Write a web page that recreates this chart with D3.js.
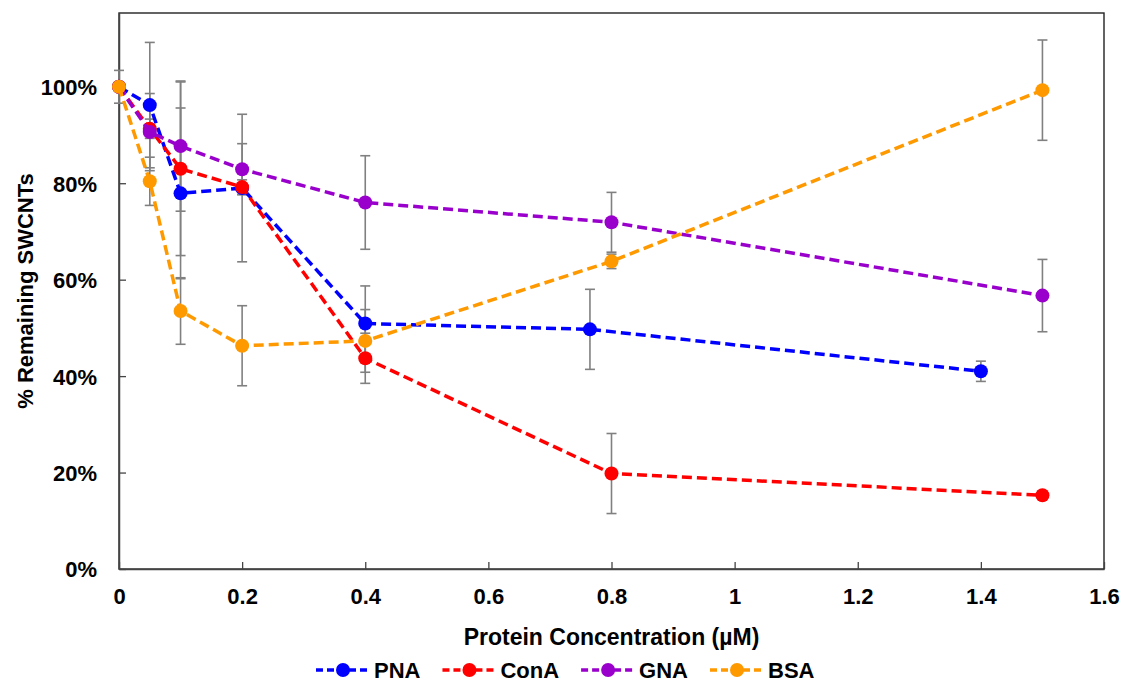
<!DOCTYPE html>
<html>
<head>
<meta charset="utf-8">
<script src="https://cdn.jsdelivr.net/npm/d3@7"></script>
<style>
  html, body { margin: 0; padding: 0; background: #fff; }
  svg { display: block; }
  text { font-family: "Liberation Sans", Arial, sans-serif; font-weight: bold; fill: #000; }
</style>
</head>
<body>
<svg id="chart" width="1123" height="682"></svg>
<script>
// ---- data ----
const seriesNames = ["PNA", "ConA", "GNA", "BSA"];
const seriesColors = ["#0000FF", "#FF0000", "#9900CC", "#FF9900"];

const xPNA = [0, 0.05, 0.1, 0.2, 0.4, 0.765, 1.4];
const yPNA = [1.00, 0.962, 0.779, 0.790, 0.509, 0.497, 0.410];
const ePNA = [0, 0.13, 0.177, 0.153, 0.078, 0.083, 0.021];

const xConA = [0, 0.05, 0.1, 0.2, 0.4, 0.8, 1.5];
const yConA = [1.00, 0.913, 0.830, 0.792, 0.437, 0.198, 0.153];
const eConA = [0, 0.02, 0.18, 0.015, 0.052, 0.083, 0.008];

const xGNA = [0, 0.05, 0.1, 0.2, 0.4, 0.8, 1.5];
const yGNA = [1.00, 0.906, 0.877, 0.829, 0.760, 0.719, 0.567];
const eGNA = [0, 0.08, 0.135, 0.053, 0.097, 0.062, 0.075];

const xBSA = [0, 0.05, 0.1, 0.2, 0.4, 0.8, 1.5];
const yBSA = [1.00, 0.804, 0.535, 0.463, 0.473, 0.638, 0.993];
const eBSA = [0.034, 0.05, 0.069, 0.083, 0.065, 0.015, 0.104];

const xTicks = [0, 0.2, 0.4, 0.6, 0.8, 1, 1.2, 1.4, 1.6];
const yTicks = [0, 0.2, 0.4, 0.6, 0.8, 1.0];

const xTitle = "Protein Concentration (µM)";
const yTitle = "% Remaining SWCNTs";

// ---- build ----
const series = [
  { name: seriesNames[0], color: seriesColors[0], x: xPNA, y: yPNA, e: ePNA },
  { name: seriesNames[1], color: seriesColors[1], x: xConA, y: yConA, e: eConA },
  { name: seriesNames[2], color: seriesColors[2], x: xGNA, y: yGNA, e: eGNA },
  { name: seriesNames[3], color: seriesColors[3], x: xBSA, y: yBSA, e: eBSA }
].map(s => ({ ...s, pts: s.x.map((xv, i) => ({ x: xv, y: s.y[i], e: s.e[i] })) }));

const pLeft = 119, pRight = 1104, pTop = 13, pBottom = 569;
const svg = d3.select("#chart");
const FONT = '"Liberation Sans", Arial, sans-serif';

const x = d3.scaleLinear().domain([0, 1.6]).range([pLeft, pRight]);
const y = d3.scaleLinear().domain([0, 1.153]).range([pBottom, pTop]);

// plot border
svg.append("rect")
  .attr("x", pLeft).attr("y", pTop)
  .attr("width", pRight - pLeft).attr("height", pBottom - pTop)
  .attr("fill", "none").attr("stroke", "#222").attr("stroke-width", 1.4);

// x axis (inner ticks)
const xAxis = svg.append("g")
  .attr("transform", `translate(0,${pBottom})`)
  .call(d3.axisBottom(x).tickValues(xTicks).tickSizeInner(-7).tickSizeOuter(0)
    .tickPadding(0).tickFormat(d => String(+d.toFixed(1))));
xAxis.select(".domain").attr("stroke", "#444").attr("stroke-width", 1.5);
xAxis.selectAll(".tick line").attr("stroke", "#444").attr("stroke-width", 1.3);
xAxis.selectAll(".tick text").attr("font-size", 22).attr("dy", 0).attr("y", 35)
  .attr("font-family", FONT).attr("font-weight", "bold").attr("fill", "#000");

// y axis (inner ticks)
const yAxis = svg.append("g")
  .attr("transform", `translate(${pLeft},0)`)
  .call(d3.axisLeft(y).tickValues(yTicks).tickSizeInner(-7).tickSizeOuter(0)
    .tickPadding(0).tickFormat(d3.format(".0%")));
yAxis.select(".domain").attr("stroke", "#444").attr("stroke-width", 1.5);
yAxis.selectAll(".tick line").attr("stroke", "#444").attr("stroke-width", 1.3);
yAxis.selectAll(".tick text").attr("font-size", 22).attr("x", -22).attr("dy", "0.36em")
  .attr("font-family", FONT).attr("font-weight", "bold").attr("fill", "#000");

// titles
svg.append("text").attr("x", (pLeft + pRight) / 2).attr("y", 645)
  .attr("text-anchor", "middle").attr("font-size", 23).text(xTitle);
svg.append("text").attr("transform", `translate(33,${(pTop + pBottom) / 2}) rotate(-90)`)
  .attr("text-anchor", "middle").attr("font-size", 22).text(yTitle);

// error bars
const cap = 5;
const eg = svg.append("g");
series.forEach(s => {
  s.pts.filter(p => p.e > 0).forEach(p => {
    const cx = x(p.x), y1 = y(p.y + p.e), y2 = y(p.y - p.e);
    eg.append("line").attr("x1", cx).attr("x2", cx).attr("y1", y1).attr("y2", y2)
      .attr("stroke", "#808080").attr("stroke-width", 1.6);
    [y1, y2].forEach(yy => eg.append("line").attr("x1", cx - cap).attr("x2", cx + cap)
      .attr("y1", yy).attr("y2", yy).attr("stroke", "#808080").attr("stroke-width", 1.6));
  });
});

// lines + markers
const line = d3.line().x(d => x(d.x)).y(d => y(d.y));
series.forEach(s => {
  const g = svg.append("g");
  g.append("path").datum(s.pts).attr("d", line)
    .attr("fill", "none").attr("stroke", s.color).attr("stroke-width", 3.5)
    .attr("stroke-dasharray", "10,5");
  g.selectAll("circle").data(s.pts).join("circle")
    .attr("cx", d => x(d.x)).attr("cy", d => y(d.y)).attr("r", 7)
    .attr("fill", s.color);
});

// legend (laid out by measured text widths)
const legY = 670;
let lx = 316;
series.forEach(s => {
  const lg = svg.append("g").attr("transform", `translate(${lx},${legY})`);
  lg.append("line").attr("x1", 0).attr("x2", 54).attr("y1", 0).attr("y2", 0)
    .attr("stroke", s.color).attr("stroke-width", 3.5).attr("stroke-dasharray", "7,4");
  lg.append("circle").attr("cx", 27).attr("cy", 0).attr("r", 7).attr("fill", s.color);
  const t = lg.append("text").attr("x", 58).attr("y", 0).attr("dy", "0.36em")
    .attr("font-size", 22).text(s.name);
  lx += 58 + t.node().getComputedTextLength() + 22;
});
</script>
</body>
</html>
